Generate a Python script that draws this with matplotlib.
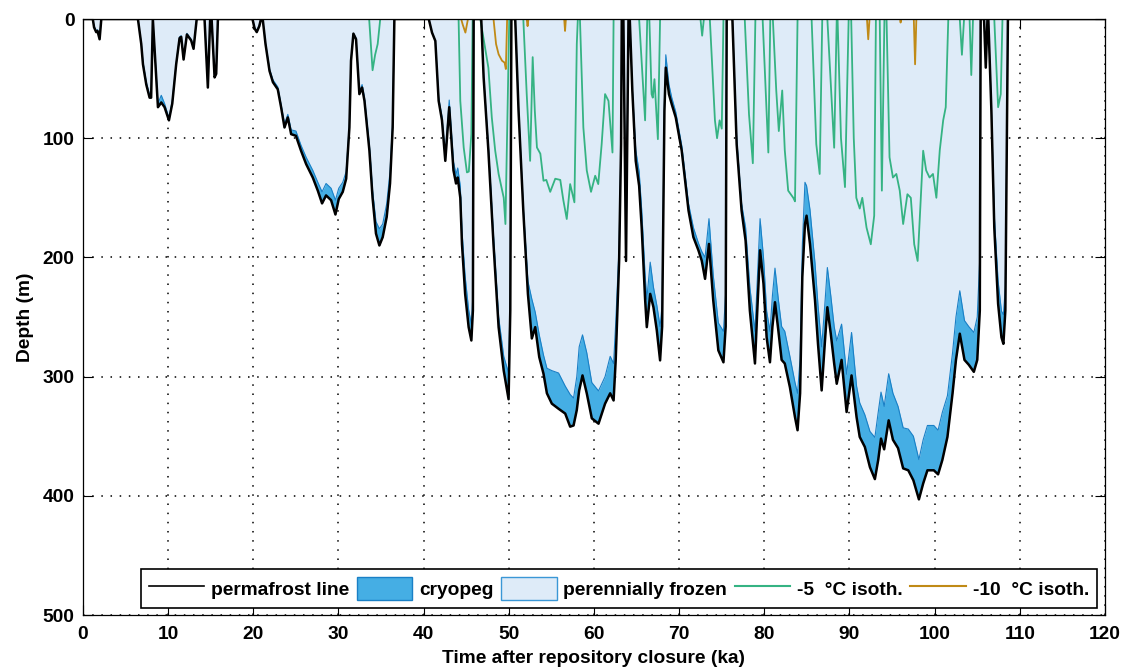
import matplotlib
matplotlib.use("Agg")
import matplotlib.pyplot as plt
from matplotlib.lines import Line2D
from matplotlib.patches import Patch

# ---------------- data ----------------
# time (ka), permafrost line depth (m), cryopeg top depth (m)
t = [0.0, 1.15, 1.3, 1.55, 1.7, 1.95, 2.15,
     6.45, 6.84, 7.04, 7.43, 7.82, 8.0, 8.2, 8.8, 9.19, 9.58, 10.09, 10.48, 10.94, 11.34, 11.53,
     11.81, 12.2, 12.7, 12.98, 13.35,
     14.27, 14.66, 14.93, 15.1, 15.45, 15.64, 15.84,
     19.9, 20.15, 20.4, 20.7, 20.9,
     21.1, 21.43, 21.9, 22.3, 22.87, 23.26, 23.66, 24.05, 24.44, 25.0, 25.6, 26.2, 26.98, 27.57,
     28.07, 28.54, 29.13, 29.64, 30.03, 30.5, 30.9, 31.28, 31.47, 31.75, 32.06, 32.45, 32.77,
     33.05, 33.63, 34.0, 34.4, 34.8, 35.19, 35.66, 36.05, 36.36, 36.56,
     40.6, 40.98, 41.37, 41.76, 42.15, 42.54, 43.0, 43.5, 43.8, 44.0, 44.3, 44.5, 44.87, 45.28,
     45.6, 45.78, 45.87,
     46.76, 47.04, 47.6, 48.2, 48.8, 49.4, 49.97, 50.17, 50.3,
     50.75, 51.14, 51.7, 52.24, 52.7, 53.1, 53.57, 54.07, 54.47, 55.05, 55.84, 56.62, 57.2, 57.6,
     57.98, 58.26, 58.65, 59.15, 59.74, 60.53, 61.3, 61.9, 62.3, 62.55, 62.95, 63.18, 63.26,
     63.45, 63.76, 64.05,
     64.2, 64.5, 64.9, 65.3, 65.6, 66.0, 66.2, 66.6, 66.98, 67.37, 67.76, 68.0, 68.27, 68.43,
     68.8, 69.13, 69.6, 70.3, 71.1, 71.67, 72.26, 72.65, 73.04, 73.5, 74.0, 74.6, 75.2, 75.46, 75.58,
     76.25, 76.75, 77.33, 77.8, 78.3, 78.9, 79.2, 79.5, 79.9, 80.27, 80.66, 80.95, 81.25, 81.64,
     82.03, 82.4, 83.0, 83.6, 83.9, 84.2, 84.46, 84.77, 84.96, 85.36, 85.95, 86.3, 86.73, 87.1,
     87.4, 87.8, 88.2, 88.5, 89.07, 89.66, 90.24, 90.83, 91.2, 91.8, 92.4, 92.98, 93.37, 93.7,
     94.07, 94.6, 95.1, 95.7, 96.3, 96.9, 97.5, 98.15, 98.65, 99.15, 99.9, 100.4, 100.9, 101.5,
     102.1, 102.5, 102.95, 103.5, 104.0, 104.6, 105.0, 105.3, 105.4,
     105.8, 106.0, 106.2,
     106.3, 106.66, 107.0, 107.45, 107.84, 108.07, 108.3, 108.4, 108.6, 120.0]

permafrost = [0, 0, 7, 11, 10, 17, 0,
              0, 21, 38, 55, 66, 66, 0, 74, 70, 74, 85, 71, 38, 16, 15,
              34, 13, 18, 25, 0,
              0, 57.5, 0, 0, 49, 46, 0,
              0, 8, 11, 6, 0,
              0, 21, 43.5, 53, 59, 74, 91, 82.6, 96.6, 98, 110.5, 121.7, 133, 144,
              154.7, 148, 152, 164, 151, 145, 134, 91, 35, 12.3, 17, 63, 57.5,
              68.7, 110.5, 150, 180, 190, 183, 166, 138, 91, 0,
              0, 11.4, 18.4, 68.7, 85, 119, 74, 127, 138, 133, 150, 189, 230.6, 258.5,
              269.7, 244.6, 0,
              0, 49, 110.5, 189, 258.5, 295, 319, 244.6, 0,
              0, 77, 161, 230.6, 268, 258.5, 283.6, 297.6, 314, 322.7, 327, 331, 342, 341,
              328, 311.6, 299, 314, 335, 339.5, 322.7, 314, 320, 286, 202.7, 105, 0,
              0, 203, 0,
              0, 60, 119, 140, 175, 235, 258.5, 230.6, 241.8, 261, 286.4, 258, 77, 40.8,
              63, 71.5, 82.6, 110.5, 160.8, 183, 194, 202.7, 218, 188.7, 236, 278, 288, 258, 0,
              0, 105, 160.8, 186, 244.6, 289, 240, 194, 222, 267, 288, 258, 237.6, 261,
              286, 289, 308.8, 334, 345, 314, 216.6, 172, 165, 188.7, 236, 272.5, 311.6, 272,
              241.8, 264, 289, 306, 286, 329.7, 299, 334, 350.6, 359, 376, 386, 370, 352,
              361, 336.7, 353, 360, 377, 378.6, 387, 403, 389.7, 378.6, 378.6, 382, 370, 350.6,
              314, 286, 264, 286, 290, 296, 286, 244.6, 0,
              0, 40.8, 0,
              0, 77, 175, 239, 267, 272.5, 244.6, 160.8, 0, 0]

cryopeg_top = [0, 0, 6, 10, 9, 15, 0,
               0, 20, 36, 53, 64, 64, 0, 71, 64, 71, 83, 69, 37, 15, 14,
               33, 12, 17, 24, 0,
               0, 56, 0, 0, 48, 45, 0,
               0, 7, 10, 5, 0,
               0, 20, 42, 51, 57, 72, 88, 80, 93, 94, 106, 116, 127, 137,
               145, 138, 142, 152, 142, 137, 128, 88, 34, 12, 16, 61, 55,
               66, 106, 144, 170, 176, 172, 155, 128, 86, 0,
               0, 11, 18, 66, 82, 114, 68, 120, 130, 125, 140, 178, 216, 244,
               256, 232, 0,
               0, 48, 107, 182, 250, 283, 297, 230, 0,
               0, 75, 158, 220, 235, 246, 265, 282, 293, 295, 297, 308, 315, 318,
               300, 275, 265, 280, 305, 312, 300, 283, 289, 255, 190, 100, 0,
               0, 195, 0,
               0, 58, 110, 128, 160, 215, 235, 204, 225, 240, 258, 240, 70, 30,
               55, 66, 78, 106, 155, 175, 188, 195, 200, 167.5, 215, 255, 262, 230, 0,
               0, 100, 155, 175, 225, 262, 215, 167.5, 200, 245, 262, 232, 209, 235,
               258, 262, 283, 305, 314, 285, 190, 137, 140, 160, 205, 240, 275, 240,
               208.5, 232, 258, 270, 256, 298, 263, 308, 322, 332, 346, 351, 330, 313,
               325, 297.6, 314, 325, 343, 344, 350, 369.6, 353, 341, 341, 345, 330, 316,
               280, 250, 228, 253, 258, 263, 250, 200, 0,
               0, 39, 0,
               0, 75, 165, 220, 245, 248, 225, 150, 0, 0]

# -5 degC isotherm
t_m5 = [33.6, 34.0, 34.3, 34.6, 34.9, 44.1, 44.3, 44.7, 45.08, 45.3, 45.6, 45.75,
        46.65, 47.0, 47.6, 48.0, 48.4, 48.8, 49.4, 49.6, 49.9, 50.05,
        51.7, 52.1, 52.5, 52.8, 53.05, 53.3, 53.7, 54.07, 54.4, 54.86, 55.45, 56.04, 56.4, 56.8,
        57.2, 57.7, 57.98, 58.1, 58.35, 58.75, 59.15, 59.65, 60.14, 60.5, 60.9, 61.3, 61.7,
        62.17, 62.3, 65.3, 65.8, 66.0, 66.25, 66.5, 66.76, 66.9, 67.1, 67.5, 67.76,
        72.5, 72.7, 72.9, 73.6, 74.2, 74.45, 74.75, 75.0, 75.2,
        77.7, 78.2, 78.65, 78.95, 79.8, 80.47, 80.7, 81.0, 81.4, 81.7, 82.1, 82.4, 82.8, 83.4,
        83.6, 83.9, 85.55, 86.1, 86.5, 86.8, 87.4, 88.2, 88.5, 88.6, 89.0, 89.47, 89.9,
        90.2, 90.5, 90.8, 91.2, 91.5, 92.0, 92.5, 92.9, 93.1, 93.55, 93.8, 94.1,
        94.35, 94.7, 95.1, 95.5, 95.9, 96.3, 96.8, 97.2, 97.6, 98.0, 98.3, 98.65, 99.0, 99.4,
        99.8, 100.2, 100.6, 101.0, 101.3, 101.6, 102.95, 103.2, 103.45, 104.1, 104.3, 104.5,
        107.0, 107.45, 107.76, 107.96, 108.6]
iso_m5 = [0, 43, 30, 21, 0, 0, 68.7, 107.8, 128.7, 128, 96.6, 0,
          0, 15, 41, 82.6, 110.5, 130, 150, 172, 60, 0,
          0, 63, 119, 32, 77, 107.8, 113, 135.7, 135, 145, 134, 135, 152, 167.8,
          138.5, 153.8, 21, 0, 0, 91, 127, 145, 131.5, 138.5, 105, 63, 68.7,
          112, 0, 0, 60, 85, 0, 0, 63, 66, 50.5, 100.8, 0,
          0, 14, 0, 0, 85, 100, 85, 92, 0,
          0, 80, 121, 0, 0, 112, 0, 0, 60, 94, 60, 110, 144, 150,
          153, 0, 0, 105, 130, 0, 0, 108, 0, 0, 100, 141, 0,
          0, 100, 150, 159, 150, 175, 189, 165, 0, 0, 144, 0,
          0, 116, 133, 130, 144, 172, 147, 150, 189, 203, 161, 110.5, 127, 133,
          130, 150, 110, 85, 74, 0, 0, 30, 0, 0, 47, 0,
          0, 74, 63, 0, 0]

# -10 degC isotherm
t_m10 = [44.4, 44.6, 44.9, 45.2, 48.2, 48.5, 48.8, 49.2, 49.5, 49.65, 49.8,
         52.1, 52.2, 52.3, 56.5, 56.6, 56.7, 92.05, 92.2, 92.35, 95.95, 96.0, 96.05,
         97.55, 97.7, 97.85, 101.6]
iso_m10 = [0, 5, 11.4, 0, 0, 21, 29.6, 35, 36.6, 42, 0,
           0, 6, 0, 0, 10, 0, 0, 17, 0, 0, 3, 0,
           0, 38, 0, 0]

xticks = list(range(0, 121, 10))
yticks = list(range(0, 501, 100))
labels = ['permafrost line', 'cryopeg', 'perennially frozen', '-5  °C isoth.', '-10  °C isoth.']

# ---------------- style ----------------
plt.rcParams['font.family'] = ['Liberation Sans', 'DejaVu Sans']
plt.rcParams['font.weight'] = 'bold'
FS = 13.8

c_light = '#deebf8'
c_cryo = '#45aee4'
c_cryo_edge = '#1a80c6'
c_green = '#35b383'
c_brown = '#c08a16'

fig = plt.figure(figsize=(11.32, 6.70), dpi=100)
ax = fig.add_axes([83/1132, 1-615/670, (1105-83)/1132, (615-19)/670])

ax.fill_between(t, 0, permafrost, color=c_light, linewidth=0, zorder=2)
ax.fill_between(t, cryopeg_top, permafrost, color=c_cryo, linewidth=0, zorder=3)
ax.plot(t, cryopeg_top, color=c_cryo_edge, lw=0.8, zorder=4)
ax.plot(t_m5, iso_m5, color=c_green, lw=1.3, zorder=5)
ax.plot(t_m10, iso_m10, color=c_brown, lw=1.3, zorder=6)
ax.plot(t, permafrost, color='black', lw=1.8, zorder=7)

ax.set_xlim(0, 120)
ax.set_ylim(500, 0)
ax.set_xticks(xticks)
ax.set_yticks(yticks)
ax.grid(True, linestyle=(0, (1, 5)), color='black', linewidth=1.1)
ax.set_axisbelow(True)
ax.tick_params(direction='in', top=True, right=True, length=7, width=0.8,
               labelsize=FS, pad=6)
ax.tick_params(axis='x', pad=8)
for lab in ax.get_xticklabels() + ax.get_yticklabels():
    lab.set_fontweight('bold')
for s in ax.spines.values():
    s.set_linewidth(0.9)
    s.set_zorder(10)

ax.set_xlabel('Time after repository closure (ka)', fontsize=FS, fontweight='bold', labelpad=5)
ax.set_ylabel('Depth (m)', fontsize=FS, fontweight='bold', labelpad=6)

handles = [Line2D([], [], color='black', lw=1.2),
           Patch(facecolor=c_cryo, edgecolor=c_cryo_edge, lw=1.0),
           Patch(facecolor=c_light, edgecolor='#3a97d6', lw=1.0),
           Line2D([], [], color=c_green, lw=1.5),
           Line2D([], [], color=c_brown, lw=1.5)]
leg = ax.legend(handles, labels, loc='lower right', bbox_to_anchor=(0.992, 0.0117),
                ncol=5, frameon=True, fancybox=False, framealpha=1,
                edgecolor='black', borderaxespad=0, borderpad=0.4,
                handlelength=2.9, handleheight=1.5, handletextpad=0.35,
                columnspacing=0.4, prop={'weight': 'bold', 'size': FS})
leg.get_frame().set_linewidth(1.2)
leg.set_zorder(20)

fig.savefig('out.png', dpi=100)
